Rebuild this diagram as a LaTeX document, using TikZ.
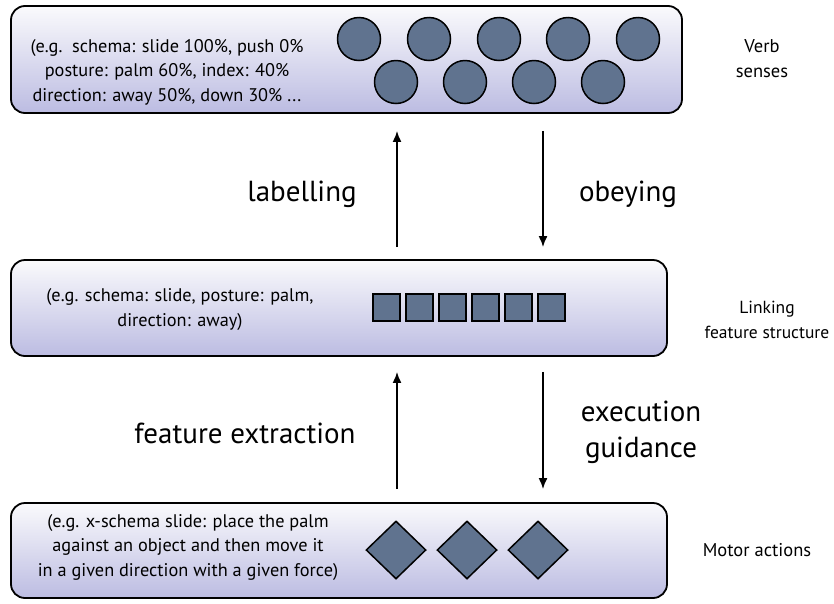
\documentclass[tikz,border=0pt]{standalone}
\usepackage{fontspec}
\setmainfont{PT Sans}
\usetikzlibrary{shapes.geometric,arrows.meta}
\definecolor{lav}{RGB}{188,188,226}
\definecolor{lavtop}{RGB}{250,250,252}
\definecolor{unitfill}{RGB}{96,115,143}
\begin{document}
\begin{tikzpicture}[x=1pt,y=-1pt,
  layer/.style={draw=black,line width=1.8pt,rounded corners=14pt,top color=lavtop,bottom color=lav,inner sep=0pt},
  unit/.style={draw=black,fill=unitfill,line width=1.5pt,inner sep=0pt},
  circ/.style={unit,circle,minimum size=43pt},
  sq/.style={unit,rectangle,minimum size=27pt,line width=2pt},
  dia/.style={unit,diamond,minimum width=60pt,minimum height=58pt},
  smalltxt/.style={align=center,font=\fontsize{18.3}{24.5}\selectfont},
  sidetxt/.style={align=center,font=\fontsize{18.5}{25}\selectfont},
  bigtxt/.style={align=center,font=\fontsize{29}{36}\selectfont},
  arr/.style={line width=1.8pt,-{Latex[length=11pt,width=9pt]}}]
\useasboundingbox (0,0) rectangle (834,603);
% boxes
\node[layer,minimum width=671pt,minimum height=107pt] (top) at (346.5,59.5) {};
\node[layer,minimum width=656pt,minimum height=96pt] (mid) at (339,308) {};
\node[layer,minimum width=656pt,minimum height=95pt] (bot) at (339,550.5) {};
% top box contents
\node[smalltxt] (ttext) at (167,72) {(e.g.\ \ schema: slide 100\%, push 0\%\\posture: palm 60\%, index: 40\%\\direction: away 50\%, down 30\% ...};
\node[circ] (c1) at (359,39) {};
\node[circ] (c2) at (429,39) {};
\node[circ] (c3) at (499,39) {};
\node[circ] (c4) at (568,39) {};
\node[circ] (c5) at (638,39) {};
\node[circ] (c6) at (396,82) {};
\node[circ] (c7) at (465,82) {};
\node[circ] (c8) at (534,82) {};
\node[circ] (c9) at (603,82) {};
\node[sidetxt] (tlab) at (762,59) {Verb\\senses};
% middle box contents
\node[smalltxt] (mtext) at (180,309.5) {(e.g. schema: slide, posture: palm,\\direction: away)};
\node[sq] (s1) at (386,307) {};
\node[sq] (s2) at (419,307) {};
\node[sq] (s3) at (452,307) {};
\node[sq] (s4) at (485,307) {};
\node[sq] (s5) at (518,307) {};
\node[sq] (s6) at (551,307) {};
\node[sidetxt,font=\fontsize{17.5}{25}\selectfont] (mlab) at (767,320) {Linking\\feature structure};
% bottom box contents
\node[smalltxt] (btext) at (188,547) {(e.g. x-schema slide: place the palm\\against an object and then move it\\in a given direction with a given force)};
\node[dia] (d1) at (396,550) {};
\node[dia] (d2) at (467,550) {};
\node[dia] (d3) at (538,550) {};
\node[sidetxt] (blab) at (757,550) {Motor actions};
% arrows
\coordinate (ux) at (397,0);
\coordinate (dx) at (543,0);
\draw[arr,shorten <=12pt,shorten >=17pt] (mid.north -| ux) -- (top.south -| ux);
\draw[arr,shorten <=17pt,shorten >=12pt] (top.south -| dx) -- (mid.north -| dx);
\draw[arr,shorten <=13pt,shorten >=15pt] (bot.north -| ux) -- (mid.south -| ux);
\draw[arr,shorten <=15pt,shorten >=13pt] (mid.south -| dx) -- (bot.north -| dx);
% labels
\node[bigtxt] (l1) at (302,194) {labelling};
\node[bigtxt] (l2) at (628,194) {obeying};
\node[bigtxt] (l3) at (245,433) {feature extraction};
\node[bigtxt] (l4) at (641,432) {execution\\guidance};
\end{tikzpicture}
\end{document}
